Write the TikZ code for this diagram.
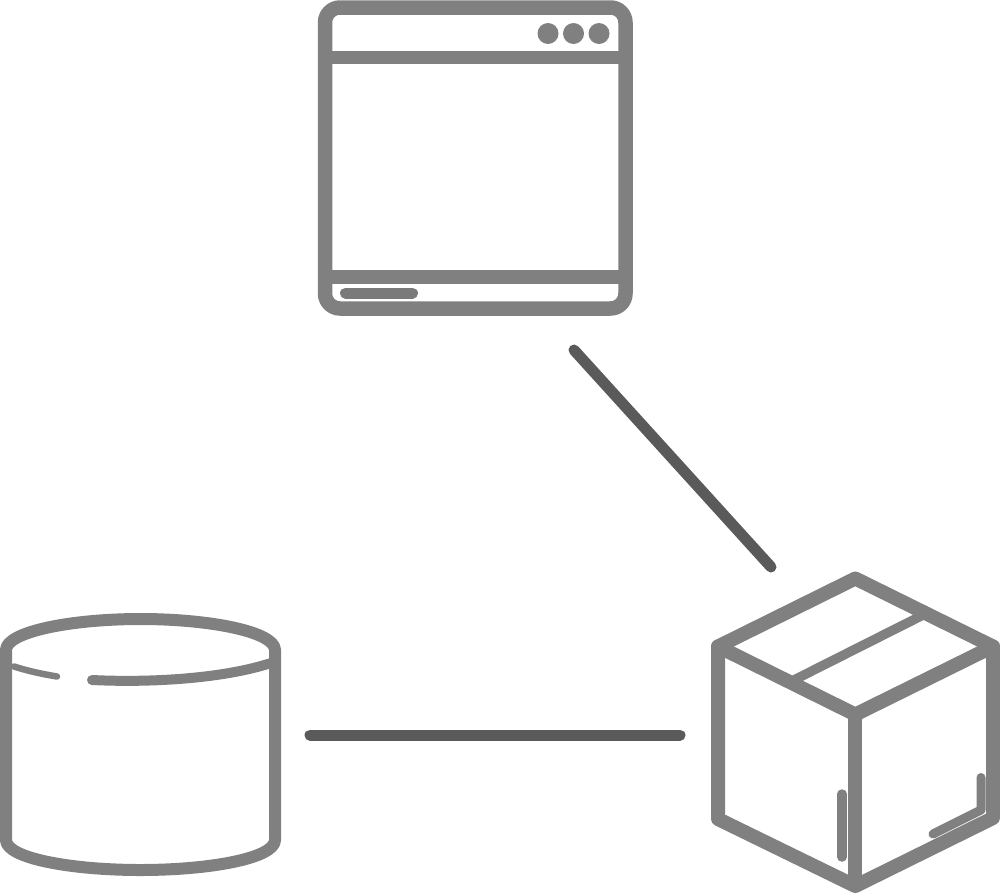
\documentclass[tikz,border=0pt]{standalone}
\usetikzlibrary{calc}
\definecolor{icongray}{HTML}{808080}
\definecolor{linkgray}{HTML}{5A5A5A}
\tikzset{
  icon/.style={draw=icongray,line width=#1,line join=round,line cap=round},
  icon/.default=14pt,
  link/.style={draw=linkgray,line cap=round,line width=#1},
  dot/.style={circle,fill=icongray,inner sep=0pt,minimum size=21pt}
}
\begin{document}
\begin{tikzpicture}[x=1pt,y=-1pt]
\useasboundingbox (0,0) rectangle (1000,894);
% window
\draw[icon=14.5pt,rounded corners=15pt] (325,7.5) rectangle (625.5,308.5);
\draw[icon=13.5pt,line cap=butt] (325,57.5) -- (625.5,57.5);
\draw[icon=13.5pt,line cap=butt] (325,277.2) -- (625.5,277.2);
\node[dot] (dot1) at (548,33.5) {};
\node[dot] (dot2) at (573.5,33.5) {};
\node[dot] (dot3) at (599,33.5) {};
\draw[icon=11pt,draw=icongray!95!black] (345.5,293) -- (412.5,293);
% cylinder
\draw[icon=12pt] (6,650) .. controls (6,632) and (70,619) .. (140.5,619) .. controls (211,619) and (275,632) .. (275,650) -- (275,840) .. controls (275,858) and (211,870) .. (140.5,870) .. controls (70,870) and (6,858) .. (6,840) -- cycle;
\draw[icon=6.5pt] (14,666.5) .. controls (28,671) and (42,674) .. (57,676.5);
\draw[icon=10pt] (92,680) .. controls (155,683) and (225,678) .. (271,663);
% box
\coordinate (top) at (855.3,578.5);
\coordinate (upleft) at (718,646.5);
\coordinate (lowleft) at (718,819);
\coordinate (bottom) at (855.3,886);
\coordinate (lowright) at (993,818);
\coordinate (upright) at (993,646.5);
\coordinate (center) at (855.3,714.5);
\draw[icon=14pt] (top) -- (upleft) -- (lowleft) -- (bottom) -- (lowright) -- (upright) -- cycle;
\draw[icon=14pt] (upleft) -- (center) -- (upright);
\draw[icon=14pt,line cap=butt] (center) -- (bottom);
\draw[icon=9.5pt,line cap=butt] (790,682) -- (926,613.5);
\draw[icon=9.5pt] (842,794) -- (842,857);
\draw[icon=9pt] (981,777.5) -- (981,810) -- (933,834);
% links
\coordinate (windowend) at (574,350);
\coordinate (boxend) at (771,567);
\coordinate (cylend) at (310,735);
\coordinate (boxside) at (680,735);
\draw[link=11pt] (windowend) -- (boxend);
\draw[link=11pt] (cylend) -- (boxside);
\end{tikzpicture}
\end{document}
